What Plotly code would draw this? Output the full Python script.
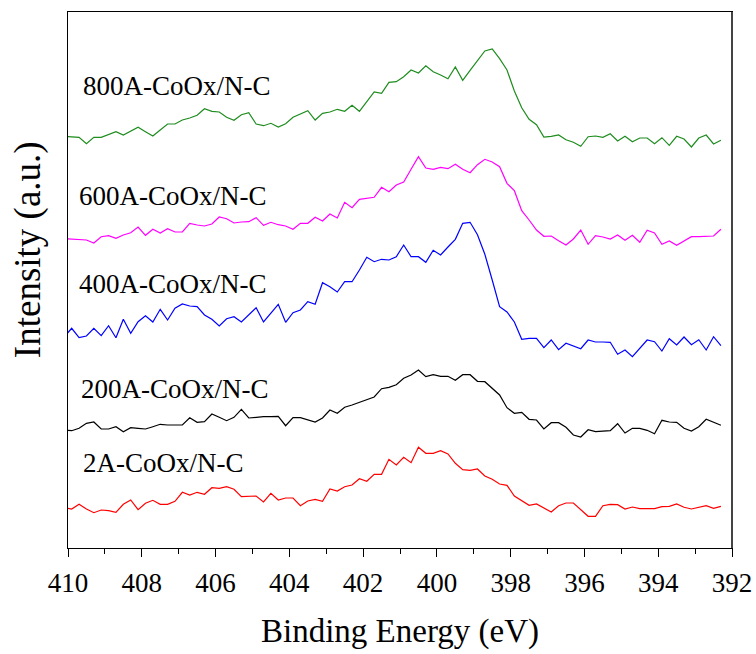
import plotly.graph_objects as go

energy = [
    410.1, 409.9, 409.7, 409.5, 409.3, 409.1, 408.9, 408.7, 408.5, 408.3,
    408.1, 407.9, 407.7, 407.5, 407.3, 407.1, 406.9, 406.7, 406.5, 406.3,
    406.1, 405.9, 405.7, 405.5, 405.3, 405.1, 404.9, 404.7, 404.5, 404.3,
    404.1, 403.9, 403.7, 403.5, 403.3, 403.1, 402.9, 402.7, 402.5, 402.3,
    402.1, 401.9, 401.7, 401.5, 401.3, 401.1, 400.9, 400.7, 400.5, 400.3,
    400.1, 399.9, 399.7, 399.5, 399.3, 399.1, 398.9, 398.7, 398.5, 398.3,
    398.1, 397.9, 397.7, 397.5, 397.3, 397.1, 396.9, 396.7, 396.5, 396.3,
    396.1, 395.9, 395.7, 395.5, 395.3, 395.1, 394.9, 394.7, 394.5, 394.3,
    394.1, 393.9, 393.7, 393.5, 393.3, 393.1, 392.9, 392.7, 392.5, 392.3,
]

i_800 = [
    411.7, 411.0, 410.7, 404.3, 410.7, 410.7, 413.3, 416.3, 413.0, 416.7,
    420.7, 416.3, 412.0, 418.0, 424.0, 424.0, 428.0, 430.0, 432.7, 439.3,
    436.7, 436.0, 430.7, 427.7, 433.3, 435.3, 424.0, 422.3, 424.7, 421.0,
    424.3, 430.7, 434.0, 437.3, 428.0, 434.7, 436.0, 438.7, 436.7, 442.7,
    436.7, 446.7, 456.0, 454.7, 465.7, 466.3, 471.3, 478.0, 475.0, 482.3,
    476.3, 473.0, 469.3, 481.0, 467.7, 477.7, 487.3, 497.0, 499.0, 489.3,
    478.0, 457.0, 440.3, 428.7, 423.3, 411.0, 411.7, 413.0, 408.3, 405.7,
    401.7, 411.3, 412.0, 410.7, 414.3, 407.0, 411.7, 406.3, 410.0, 410.0,
    404.3, 410.3, 402.7, 411.7, 409.0, 401.0, 410.0, 413.0, 404.0, 407.7,
]

i_600 = [
    309.3, 308.7, 308.7, 308.0, 305.0, 311.3, 312.3, 309.7, 313.0, 315.3,
    321.0, 312.7, 318.7, 315.0, 319.3, 316.0, 316.0, 324.7, 323.0, 322.0,
    324.0, 331.0, 329.3, 325.0, 326.0, 326.3, 330.3, 322.7, 325.7, 323.3,
    322.0, 318.7, 324.7, 324.7, 330.7, 327.0, 334.0, 330.0, 345.7, 340.3,
    348.7, 350.0, 350.7, 360.7, 356.3, 363.0, 366.0, 378.7, 391.3, 380.0,
    378.7, 380.7, 379.3, 383.7, 378.7, 375.3, 383.3, 388.7, 386.0, 381.3,
    364.7, 357.3, 337.3, 328.0, 318.0, 311.7, 312.0, 307.3, 303.0, 309.0,
    318.0, 303.7, 312.3, 311.0, 309.0, 313.0, 307.7, 312.7, 305.7, 317.7,
    315.0, 303.7, 307.0, 302.7, 307.0, 311.3, 311.3, 311.7, 312.0, 318.7,
]

i_400 = [
    211.3, 219.7, 210.3, 212.0, 219.7, 212.3, 222.3, 210.3, 228.7, 214.7,
    226.3, 232.3, 226.0, 238.7, 228.0, 239.7, 244.0, 242.0, 241.3, 233.0,
    228.7, 222.0, 229.3, 231.3, 226.0, 233.0, 240.3, 226.0, 234.7, 243.7,
    225.7, 235.3, 238.0, 246.3, 243.7, 265.3, 261.3, 256.0, 266.3, 266.3,
    278.0, 290.7, 286.3, 288.7, 288.0, 291.3, 303.0, 291.3, 291.3, 285.7,
    297.7, 293.0, 301.0, 308.7, 324.7, 325.7, 313.3, 293.7, 268.0, 241.3,
    236.0, 226.0, 208.7, 209.7, 209.7, 200.3, 208.0, 198.3, 204.7, 202.0,
    199.3, 208.0, 206.0, 206.0, 205.7, 193.7, 198.0, 191.3, 199.7, 208.0,
    206.3, 197.0, 209.3, 203.0, 211.0, 203.3, 208.3, 198.0, 211.3, 202.3,
]

i_200 = [
    118.0, 117.3, 119.7, 124.7, 126.0, 119.0, 119.0, 121.3, 116.3, 120.3,
    119.7, 119.0, 121.3, 123.7, 123.0, 123.0, 123.0, 130.3, 125.7, 126.3,
    134.0, 130.7, 127.3, 130.7, 138.7, 130.0, 130.7, 131.3, 131.3, 131.7,
    122.3, 130.3, 130.3, 128.0, 126.0, 130.0, 138.0, 134.7, 140.7, 143.0,
    145.7, 148.0, 151.0, 159.3, 160.7, 163.3, 169.7, 173.0, 178.0, 171.3,
    173.3, 171.7, 171.7, 167.7, 173.3, 173.3, 166.7, 166.3, 159.7, 153.0,
    140.3, 134.7, 135.7, 128.7, 128.0, 119.0, 125.3, 125.3, 120.7, 113.0,
    111.0, 118.3, 116.3, 117.0, 117.3, 124.3, 115.0, 119.7, 119.7, 117.7,
    114.3, 127.7, 126.0, 125.7, 119.7, 117.0, 121.3, 128.7, 125.7, 122.7,
]

i_2 = [
    40.3, 39.0, 43.7, 39.0, 35.3, 38.0, 37.3, 35.7, 43.7, 48.0,
    38.3, 44.7, 47.7, 43.7, 43.7, 46.7, 55.7, 53.0, 55.7, 53.7,
    60.3, 59.7, 61.3, 58.7, 51.3, 51.3, 52.0, 46.0, 54.7, 48.0,
    50.0, 50.0, 42.3, 47.0, 48.7, 46.7, 59.0, 57.0, 61.3, 63.0,
    69.3, 66.7, 73.7, 73.7, 88.7, 83.0, 90.7, 85.3, 100.7, 94.7,
    94.7, 97.3, 94.0, 84.7, 78.3, 77.7, 79.0, 72.0, 68.7, 64.0,
    62.7, 52.0, 47.7, 42.7, 44.0, 40.0, 36.0, 42.3, 45.0, 45.0,
    38.3, 31.7, 31.7, 42.3, 43.7, 43.3, 39.0, 41.0, 39.3, 39.3,
    39.3, 41.3, 41.7, 44.0, 40.7, 39.0, 40.7, 42.3, 39.7, 41.7,
]

series_names = ["800A-CoOx/N-C", "600A-CoOx/N-C", "400A-CoOx/N-C",
                "200A-CoOx/N-C", "2A-CoOx/N-C"]
series_values = [i_800, i_600, i_400, i_200, i_2]
series_colors = ["#1e8c1e", "#ff00ff", "#0000ff", "#000000", "#ff0000"]
label_pos = [(409.65, 462), (409.76, 352), (409.76, 264), (409.7, 159), (409.65, 85)]

x_ticks = [410, 408, 406, 404, 402, 400, 398, 396, 394, 392]

FONT = "Liberation Serif"

fig = go.Figure()
for name, vals, col in zip(series_names, series_values, series_colors):
    fig.add_trace(go.Scatter(x=energy, y=vals, mode="lines", name=name,
                             line=dict(color=col, width=1.2)))

for name, (lx, ly) in zip(series_names, label_pos):
    fig.add_annotation(x=lx, y=ly, xref="x", yref="y", text=name,
                       showarrow=False, xanchor="left", yanchor="middle",
                       font=dict(family=FONT, size=27, color="black"))

fig.add_annotation(x=-0.060, y=0.556, xref="paper", yref="paper",
                   text="Intensity (a.u.)", textangle=-90, showarrow=False,
                   xanchor="center", yanchor="middle",
                   font=dict(family=FONT, size=37, color="black"))

# right frame edge is drawn a little heavier and greyer in the reference
fig.add_shape(type="line", xref="paper", yref="paper", x0=1, x1=1, y0=0, y1=1,
              line=dict(color="#444444", width=2))

fig.update_layout(
    width=756, height=654,
    margin=dict(l=68, r=24, t=12, b=106, autoexpand=False),
    paper_bgcolor="white", plot_bgcolor="white",
    showlegend=False,
    font=dict(family=FONT, color="black"),
)
fig.update_xaxes(
    range=[410, 392], tickvals=x_ticks, ticktext=[str(v) for v in x_ticks],
    ticks="outside", ticklen=8, tickwidth=1, tickcolor="black",
    minor=dict(dtick=1, ticks="outside", ticklen=5, tickwidth=1, tickcolor="black"),
    showline=True, linecolor="black", linewidth=1, mirror=True,
    showgrid=False, zeroline=False, automargin=False,
    ticklabelstandoff=3,
    tickfont=dict(family=FONT, size=27, color="black"),
    title=dict(text="Binding Energy (eV)", font=dict(family=FONT, size=33, color="black"),
               standoff=21),
)
fig.update_yaxes(
    range=[0, 536], showticklabels=False, ticks="",
    showline=True, linecolor="black", linewidth=1, mirror=True,
    showgrid=False, zeroline=False, automargin=False,
)

fig.write_html("out.html")
